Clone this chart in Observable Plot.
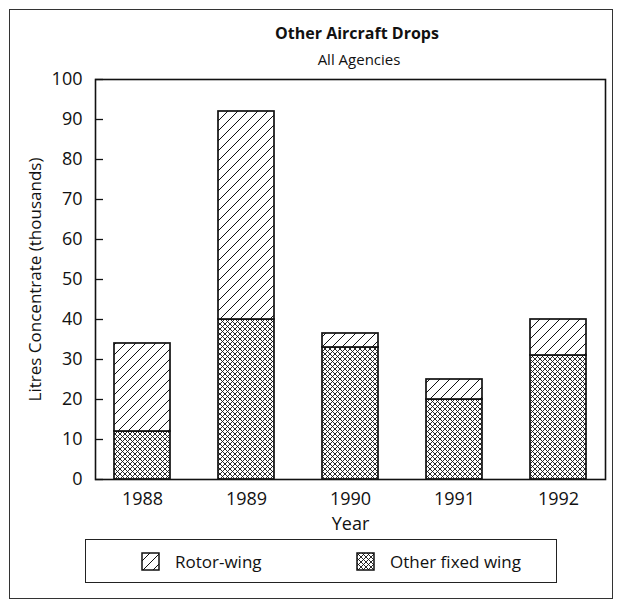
<!DOCTYPE html>
<html>
<head>
<meta charset="utf-8">
<script src="https://cdn.jsdelivr.net/npm/d3@7"></script>
<script src="https://cdn.jsdelivr.net/npm/@observablehq/plot@0.6"></script>
<style>
  html, body { margin: 0; padding: 0; background: #fff; }
  body { width: 622px; height: 610px; position: relative; overflow: hidden; font-family: "Open Sans", sans-serif; color: #111; }
  #outer { position: absolute; left: 9px; top: 9px; width: 602px; height: 588px; border: 1.5px solid #333; }
  #title { position: absolute; left: 157px; width: 400px; top: 22px; text-align: center; font-weight: bold; font-size: 16px; }
  #subtitle { position: absolute; left: 159px; width: 400px; top: 49px; text-align: center; font-size: 15px; }
  #chart { position: absolute; left: 0; top: 59px; }
  #legend { position: absolute; left: 85px; top: 539px; width: 470px; height: 42px; border: 1.5px solid #222; }
  .item { position: absolute; top: 10px; display: flex; align-items: center; font-size: 17px; }
  .item svg { margin-right: 15px; }
</style>
</head>
<body>
<svg width="0" height="0" style="position:absolute">
  <defs>
    <pattern id="rotorHatch" patternUnits="userSpaceOnUse" width="10" height="10">
      <rect width="10" height="10" fill="white"/>
      <path d="M-2,2 L2,-2 M0,10 L10,0 M8,12 L12,8" stroke="#111" stroke-width="1"/>
    </pattern>
    <pattern id="fixedHatch" patternUnits="userSpaceOnUse" width="5" height="5">
      <rect width="5" height="5" fill="white"/>
      <path d="M0,0 L5,5 M0,5 L5,0" stroke="#111" stroke-width="0.9"/>
    </pattern>
  </defs>
</svg>
<div id="outer"></div>
<div id="title">Other Aircraft Drops</div>
<div id="subtitle">All Agencies</div>
<div id="chart"></div>
<div id="legend"></div>
<script>
const years = ["1988", "1989", "1990", "1991", "1992"];
const fixedWing = [12, 40, 33, 20, 31];
const rotorWing = [22, 52, 3.5, 5, 9];
const seriesNames = ["Other fixed wing", "Rotor-wing"];
const yTicks = [0, 10, 20, 30, 40, 50, 60, 70, 80, 90, 100];
const patterns = ["url(#fixedHatch)", "url(#rotorHatch)"];

const rows = [];
years.forEach((yr, i) => {
  rows.push({year: yr, series: seriesNames[0], value: fixedWing[i]});
  rows.push({year: yr, series: seriesNames[1], value: rotorWing[i]});
});

const chart = Plot.plot({
  width: 622,
  height: 479,
  marginLeft: 95,
  marginRight: 17,
  marginTop: 20,
  marginBottom: 59,
  style: {fontFamily: "Open Sans", fontSize: "18px", color: "#111", background: "transparent", overflow: "visible"},
  x: {domain: years, paddingInner: 0.46, paddingOuter: 0.176},
  y: {domain: [0, 100]},
  color: {domain: seriesNames, range: patterns},
  marks: [
    Plot.barY(rows, {x: "year", y: "value", fill: "series", stroke: "#111", strokeWidth: 1.7}),
    Plot.frame({stroke: "#111", strokeWidth: 1.6}),
    Plot.axisY({ticks: yTicks, tickSize: 0, tickPadding: 13, label: null}),
    Plot.text(["Litres Concentrate (thousands)"], {frameAnchor: "left", dx: -60, rotate: -90, textAnchor: "middle", fontSize: 17}),
    Plot.axisY({ticks: yTicks, tickSize: 8, dx: 8, tickFormat: () => "", label: null, strokeWidth: 1.3}),
    Plot.axisX({tickSize: 0, tickPadding: 13, fontSize: 18, label: null}),
    Plot.text(["Year"], {frameAnchor: "bottom", dy: 50, fontSize: 18})
  ]
});
document.getElementById("chart").appendChild(chart);

const legend = document.getElementById("legend");
const pos = [[55, seriesNames[1], patterns[1]], [270, seriesNames[0], patterns[0]]];
pos.forEach(([left, name, pat]) => {
  const d = document.createElement("div");
  d.className = "item";
  d.style.left = left + "px";
  d.innerHTML = `<svg width="19" height="19"><rect x="1" y="1" width="17" height="17" fill="${pat}" stroke="#111" stroke-width="1.5"/></svg><span>${name}</span>`;
  legend.appendChild(d);
});
</script>
</body>
</html>
